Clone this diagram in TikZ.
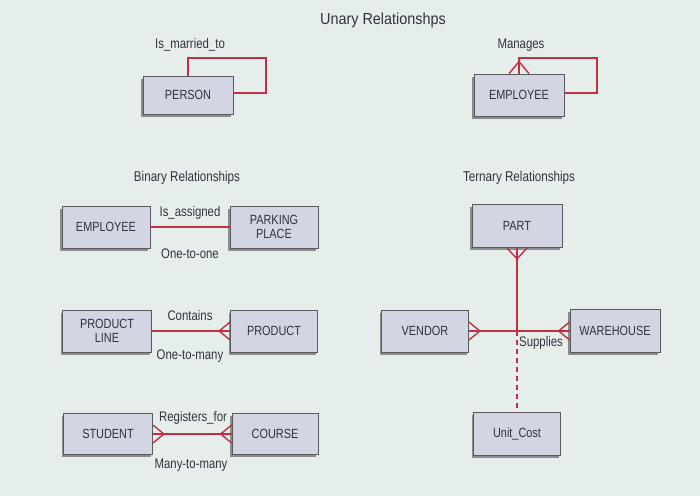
\documentclass[tikz,border=0pt]{standalone}
\usepackage{fontspec}
\setmainfont{Liberation Sans}[FakeStretch=0.82]
\newfontfamily\titlefont{Liberation Sans}[FakeStretch=0.9]
\usetikzlibrary{calc}
\definecolor{bgc}{HTML}{E6EEEC}
\definecolor{boxfill}{HTML}{D3D5E5}
\definecolor{relred}{HTML}{C42E44}
\definecolor{txt}{HTML}{32323E}
\tikzset{
  ent/.style={draw=black!65, fill=boxfill, line width=0.8pt, text=txt, font=\fontsize{13.3}{14}\selectfont, align=center, inner sep=0pt,
    preaction={fill=black!45, transform canvas={shift={(-2pt,-2.5pt)}}}},
  lab/.style={text=txt, font=\fontsize{13.9}{14}\selectfont, inner sep=1pt},
  hd/.style={text=txt, font=\fontsize{14.2}{15}\selectfont, inner sep=1pt},
  rel/.style={draw=relred, line width=1.4pt},
  reld/.style={draw=relred, line width=1.4pt, dash pattern=on 5pt off 4pt}
}
\begin{document}
\begin{tikzpicture}[x=1pt,y=-1pt]
\useasboundingbox (0,0) rectangle (700,496);
\fill[bgc] (0,0) rectangle (700,496);

% titles
\node[text=txt, font=\titlefont\fontsize{16}{17}\selectfont, inner sep=1pt] (t1) at (383,20) {Unary Relationshps};
\node[hd] (t2) at (187,178) {Binary Relationships};
\node[hd] (t3) at (519,178) {Ternary Relationships};

% unary
\coordinate (pl) at (266,58);
\coordinate (el) at (597,58);
\draw[rel] (188,76) |- (pl) |- (233,93);
\node[ent, minimum width=90, minimum height=38] (person) at (188,95) {PERSON};
\node[lab] (lmar) at (190,45) {Is\_married\_to};

\draw[rel] (519,74) |- (el) |- (564,93);
\node[ent, minimum width=90, minimum height=42] (emp1) at (519,95) {EMPLOYEE};
\draw[rel] ($(emp1.north)+(0,-12)$) -- ($(emp1.north)+(-10,0)$)
           ($(emp1.north)+(0,-12)$) -- ($(emp1.north)+(10,0)$);
\node[lab] (lman) at (521,45) {Manages};

% binary one-to-one
\node[ent, minimum width=88, minimum height=42] (emp2) at (106,227) {EMPLOYEE};
\node[ent, minimum width=88, minimum height=42] (park) at (274,227) {PARKING\\PLACE};
\draw[rel] (emp2.east) -- (park.west);
\node[lab] (lasg) at (190,213) {Is\_assigned};
\node[lab] (l11) at (190,254) {One-to-one};

% binary one-to-many
\node[ent, minimum width=89, minimum height=42] (pline) at (107,331) {PRODUCT\\LINE};
\node[ent, minimum width=87, minimum height=42] (prod) at (274,331) {PRODUCT};
\draw[rel] (pline.east) -- (prod.west);
\draw[rel] ($(prod.west)+(-11,0)$) -- ($(prod.west)+(0,-9)$)
           ($(prod.west)+(-11,0)$) -- ($(prod.west)+(0,9)$);
\node[lab] (lcon) at (190,316) {Contains};
\node[lab] (l1m) at (190,356) {One-to-many};

% binary many-to-many
\node[ent, minimum width=89, minimum height=41] (stud) at (108,434) {STUDENT};
\node[ent, minimum width=86, minimum height=41] (course) at (275,434) {COURSE};
\draw[rel] (stud.east) -- (course.west);
\draw[rel] ($(course.west)+(-11,0)$) -- ($(course.west)+(0,-9)$)
           ($(course.west)+(-11,0)$) -- ($(course.west)+(0,9)$)
           ($(stud.east)+(11,0)$) -- ($(stud.east)+(0,-9)$)
           ($(stud.east)+(11,0)$) -- ($(stud.east)+(0,9)$);
\node[lab] (lreg) at (193,418) {Registers\_for};
\node[lab] (lmm) at (191,465) {Many-to-many};

% ternary
\node[ent, minimum width=90, minimum height=43] (part) at (517,226) {PART};
\node[ent, minimum width=87, minimum height=42] (vendor) at (425,331) {VENDOR};
\node[ent, minimum width=90, minimum height=43] (ware) at (615,331) {WAREHOUSE};
\node[ent, minimum width=87, minimum height=43] (ucost) at (517,434) {Unit\_Cost};
\coordinate (j) at (517,331);
\draw[reld] (j) -- (ucost.north);
\draw[rel] (part.south) -- (j);
\draw[rel] (vendor.east) -- (ware.west);
\draw[rel] ($(part.south)+(0,11)$) -- ($(part.south)+(-10,0)$)
           ($(part.south)+(0,11)$) -- ($(part.south)+(10,0)$);
\draw[rel] ($(vendor.east)+(11,0)$) -- ($(vendor.east)+(0,-9)$)
           ($(vendor.east)+(11,0)$) -- ($(vendor.east)+(0,9)$);
\draw[rel] ($(ware.west)+(-11,0)$) -- ($(ware.west)+(0,-9)$)
           ($(ware.west)+(-11,0)$) -- ($(ware.west)+(0,9)$);
\node[lab, anchor=west] (lsup) at (518,343) {Supplies};
\end{tikzpicture}
\end{document}
